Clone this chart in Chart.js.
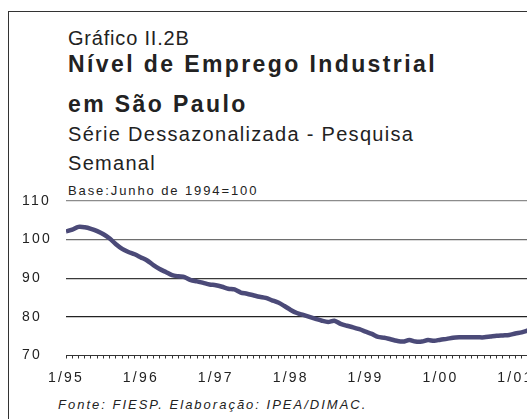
<!DOCTYPE html>
<html>
<head>
<meta charset="utf-8">
<script src="https://cdn.jsdelivr.net/npm/chart.js@4.4.0/dist/chart.umd.min.js"></script>
<style>
    html, body { margin: 0; padding: 0; background: #fff; overflow: hidden; }
    body { width: 527px; height: 419px; position: relative; font-family: 'Liberation Sans', Arial, sans-serif; color: #222; }
    #moldura { position: absolute; left: 8px; top: 11px; width: 600px; height: 500px; border-left: 1.5px solid #333; border-top: 1.5px solid #333; }
    .txt { position: absolute; left: 68px; white-space: nowrap; }
    #numero { top: 27px; font-size: 20px; letter-spacing: 0.8px; line-height: 23px; }
    #titulo { top: 44px; font-size: 23px; font-weight: bold; letter-spacing: 2.4px; line-height: 40px; }
    #sub { top: 120px; font-size: 20px; letter-spacing: 1.3px; line-height: 28.5px; }
    #base { top: 183px; font-size: 13px; letter-spacing: 1.9px; line-height: 15px; }
    #fonte { top: 397px; left: 58px; font-size: 13px; font-style: italic; letter-spacing: 2px; line-height: 15px; }
    #wrap { position: absolute; left: 0; top: 0; width: 620px; height: 419px; }
</style>
</head>
<body>
<div id="moldura"></div>
<div class="txt" id="numero">Gráfico II.2B</div>
<div class="txt" id="titulo">Nível de Emprego Industrial<br>em São Paulo</div>
<div class="txt" id="sub">Série Dessazonalizada - Pesquisa<br>Semanal</div>
<div class="txt" id="base">Base:Junho de 1994=100</div>
<div class="txt" id="fonte">Fonte: FIESP. Elaboração: IPEA/DIMAC.</div>
<div id="wrap"><canvas id="grafico" width="620" height="419"></canvas></div>
<script>
// meses a partir de jan/1995 (indice 0)
const rotulosAno = ['1/95', '1/96', '1/97', '1/98', '1/99', '1/00', '1/01', '1/02'];
const emprego = [
    102.1, 102.6, 103.3, 103.2, 102.8, 102.2, 101.4, 100.3, 98.8, 97.6, 96.8, 96.2,
    95.4, 94.6, 93.4, 92.4, 91.6, 90.8, 90.5, 90.3, 89.5, 89.2, 88.8, 88.4,
    88.2, 87.8, 87.3, 87.1, 86.3, 86.0, 85.6, 85.2, 84.9, 84.3, 83.7, 82.8,
    81.8, 81.0, 80.5, 80.0, 79.5, 79.0, 78.7, 79.0, 78.2, 77.7, 77.3, 76.8,
    76.2, 75.6, 74.8, 74.6, 74.2, 73.8, 73.6, 74.0, 73.6, 73.6, 74.0, 73.8,
    74.1, 74.3, 74.6, 74.7, 74.7, 74.7, 74.7, 74.7, 74.9, 75.1, 75.2, 75.3,
    75.7, 76.0, 76.5
];
const corGrade = { 110: '#8c8c8c', 100: '#6e6e6e', 90: '#3a3a3a', 80: '#222' };

document.addEventListener('DOMContentLoaded', function() {
    const ctx = document.getElementById('grafico').getContext('2d');

    const espacamento = {
        id: 'espacamento',
        beforeLayout(chart) { chart.ctx.letterSpacing = '2.2px'; },
        beforeDraw(chart) { chart.ctx.letterSpacing = '2.2px'; }
    };

    new Chart(ctx, {
        type: 'line',
        data: {
            datasets: [{
                data: emprego.map((v, i) => ({ x: i, y: v })),
                borderColor: '#4b4a78',
                borderWidth: 4.5,
                pointRadius: 0,
                tension: 0.3,
                fill: false
            }]
        },
        options: {
            responsive: false,
            animation: false,
            layout: { padding: { left: 22, top: 201, right: 0, bottom: 0 } },
            plugins: {
                legend: { display: false },
                tooltip: { enabled: false }
            },
            scales: {
                x: {
                    type: 'linear',
                    min: 0,
                    max: 87,
                    afterBuildTicks: function(scale) {
                        const t = [];
                        for (let m = 0; m <= 87; m++) t.push({ value: m });
                        scale.ticks = t;
                    },
                    afterFit: function(scale) { scale.height = 419 - 355.5; },
                    grid: { drawOnChartArea: false, drawTicks: true, tickLength: 3, color: '#333', lineWidth: 1 },
                    border: { display: true, color: '#333', width: 1 },
                    ticks: {
                        autoSkip: false,
                        maxRotation: 0,
                        padding: 11,
                        color: '#222',
                        font: { family: "'Liberation Sans', Arial", size: 14 },
                        callback: function(value) {
                            return value % 12 === 0 ? rotulosAno[value / 12] : '';
                        }
                    }
                },
                y: {
                    min: 70,
                    max: 110,
                    afterFit: function(scale) { scale.width = 44; },
                    grid: {
                        drawTicks: false,
                        lineWidth: 1.3,
                        color: c => corGrade[c.tick.value] || 'transparent'
                    },
                    border: { display: false },
                    ticks: {
                        stepSize: 10,
                        crossAlign: 'far',
                        color: '#222',
                        font: { family: "'Liberation Sans', Arial", size: 14 }
                    }
                }
            }
        },
        plugins: [espacamento]
    });
});
</script>
</body>
</html>
